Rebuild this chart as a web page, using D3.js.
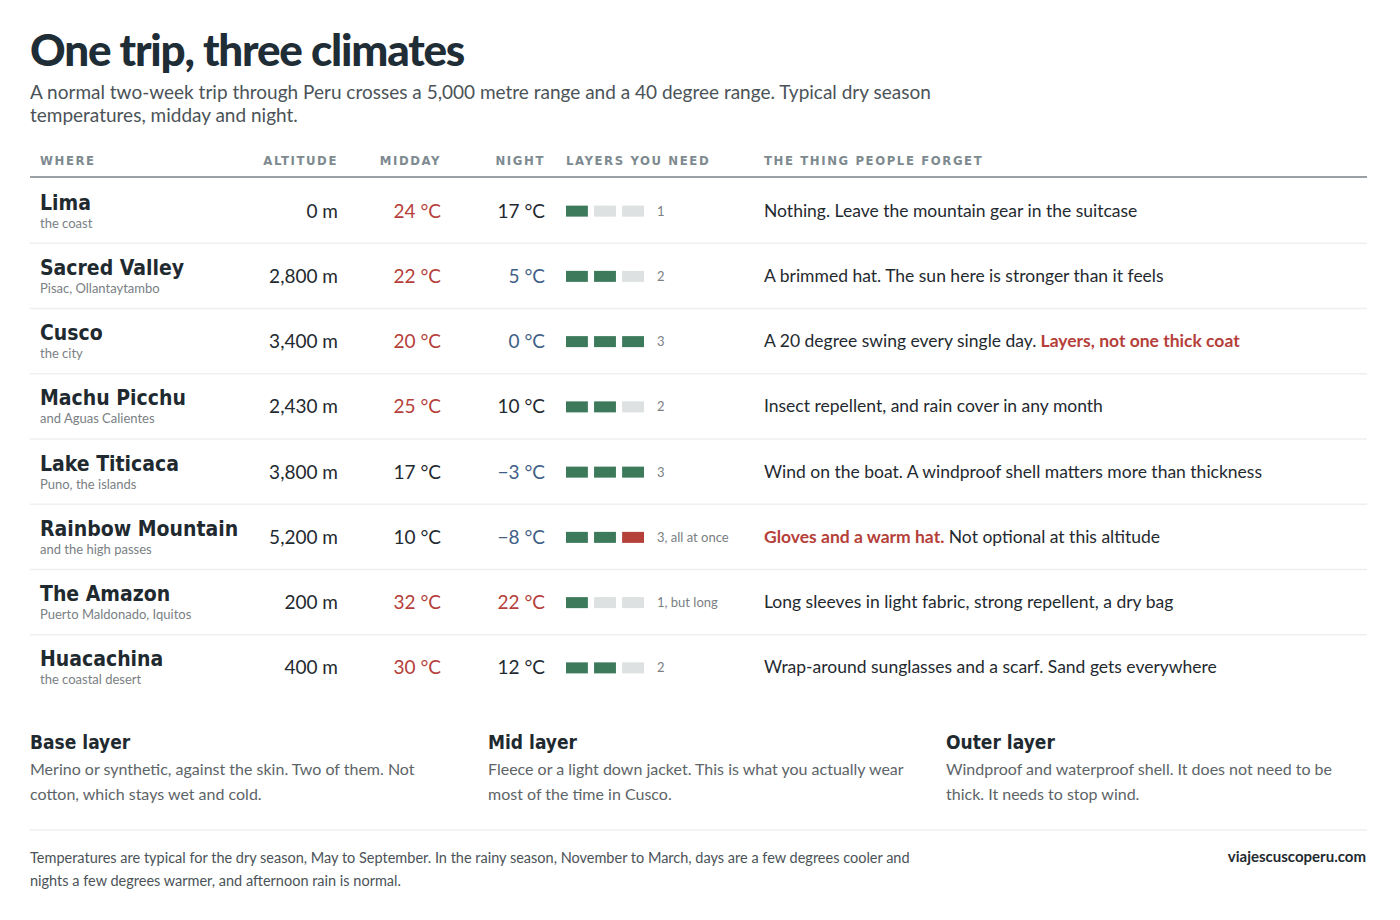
<!DOCTYPE html>
<html><head><meta charset="utf-8">
<script src="https://cdn.jsdelivr.net/npm/d3@7"></script>
<style>body{margin:0;background:#fff}</style>
</head><body>
<script>
var places = ["Lima", "Sacred Valley", "Cusco", "Machu Picchu", "Lake Titicaca", "Rainbow Mountain", "The Amazon", "Huacachina"];
var subtitles = ["the coast", "Pisac, Ollantaytambo", "the city", "and Aguas Calientes", "Puno, the islands", "and the high passes", "Puerto Maldonado, Iquitos", "the coastal desert"];
var altitudes = [0, 2800, 3400, 2430, 3800, 5200, 200, 400];
var midday = [24, 22, 20, 25, 17, 10, 32, 30];
var night = [17, 5, 0, 10, -3, -8, 22, 12];
var layers = [1, 2, 3, 2, 3, 3, 1, 2];
var layerNotes = ["1", "2", "3", "2", "3", "3, all at once", "1, but long", "2"];
var forgetLead = ["", "", "", "", "", "Gloves and a warm hat.", "", ""];
var forgetText = ["Nothing. Leave the mountain gear in the suitcase", "A brimmed hat. The sun here is stronger than it feels",
  "A 20 degree swing every single day.", "Insect repellent, and rain cover in any month",
  "Wind on the boat. A windproof shell matters more than thickness", " Not optional at this altitude",
  "Long sleeves in light fabric, strong repellent, a dry bag", "Wrap-around sunglasses and a scarf. Sand gets everywhere"];
var forgetTail = ["", "", " Layers, not one thick coat", "", "", "", "", ""];
var headers = ["WHERE", "ALTITUDE", "MIDDAY", "NIGHT", "LAYERS YOU NEED", "THE THING PEOPLE FORGET"];

var width = 1400, height = 920;
var red = "#b5403a", blue = "#3f5f86", dark = "#1f2a30", grey = "#7a8084", green = "#3d7a5c";
var cond = "'Liberation Sans Narrow', 'DejaVu Sans Condensed', sans-serif";
var body = "Lato, 'Noto Sans', sans-serif";

var svg = d3.select("body").append("svg").attr("width", width).attr("height", height)
    .style("font-family", body);

svg.append("text").attr("x", 30).attr("y", 66).text("One trip, three climates")
    .style("font-size", "44px").style("font-weight", 900).style("fill", "#1f2d36").style("letter-spacing", "-1.2px");
svg.append("text").attr("x", 30).attr("y", 99).style("font-size", "19px").style("fill", "#4b5358")
    .text("A normal two-week trip through Peru crosses a 5,000 metre range and a 40 degree range. Typical dry season");
svg.append("text").attr("x", 30).attr("y", 122).style("font-size", "19px").style("fill", "#4b5358")
    .text("temperatures, midday and night.");

var y = d3.scaleBand().domain(d3.range(places.length)).range([178, 700]);
var tempColor = function(t) { return t >= 20 ? red : (t <= 5 ? blue : dark); };
var slot = d3.scaleBand().domain([0, 1, 2]).range([566, 644]).paddingInner(0.22);

var hx = [40, 338, 441, 545, 566, 764], ha = ["start", "end", "end", "end", "start", "start"];
svg.selectAll(".hd").data(headers).enter().append("text")
    .attr("x", function(d, i) { return hx[i]; }).attr("y", 165).attr("text-anchor", function(d, i) { return ha[i]; })
    .style("font-family", cond).style("font-size", "13px").style("font-weight", "bold")
    .style("letter-spacing", "1.6px").style("fill", "#7d8a8f").text(function(d) { return d; });
svg.append("line").attr("x1", 30).attr("x2", 1367).attr("y1", 177).attr("y2", 177).style("stroke", "#9aa0a3").style("stroke-width", 2);

var row = svg.selectAll(".row").data(places).enter().append("g")
    .attr("transform", function(d, i) { return "translate(0," + (y(i) + y.bandwidth() / 2) + ")"; });

row.filter(function(d, i) { return i < places.length - 1; }).append("line")
    .attr("x1", 30).attr("x2", 1367).attr("y1", y.bandwidth() / 2).attr("y2", y.bandwidth() / 2)
    .style("stroke", "#eef0f0").style("stroke-width", 1.5);
row.append("text").attr("x", 40).attr("y", -1).text(function(d) { return d; })
    .style("font-family", cond).style("font-weight", "bold").style("font-size", "21px").style("fill", dark);
row.append("text").attr("x", 40).attr("y", 17).text(function(d, i) { return subtitles[i]; })
    .style("font-size", "13px").style("fill", grey);
row.append("text").attr("x", 338).attr("y", 7).attr("text-anchor", "end")
    .text(function(d, i) { return d3.format(",")(altitudes[i]) + " m"; })
    .style("font-size", "19px").style("fill", dark);
row.append("text").attr("x", 441).attr("y", 7).attr("text-anchor", "end")
    .text(function(d, i) { return (midday[i] < 0 ? "\u2212" + (-midday[i]) : midday[i]) + " \u00b0C"; })
    .style("font-size", "19px").style("fill", function(d, i) { return tempColor(midday[i]); });
row.append("text").attr("x", 545).attr("y", 7).attr("text-anchor", "end")
    .text(function(d, i) { return (night[i] < 0 ? "\u2212" + (-night[i]) : night[i]) + " \u00b0C"; })
    .style("font-size", "19px").style("fill", function(d, i) { return tempColor(night[i]); });

row.each(function(d, i) {
  d3.select(this).selectAll("rect").data([0, 1, 2]).enter().append("rect")
      .attr("x", function(k) { return slot(k); }).attr("y", -5).attr("width", slot.bandwidth()).attr("height", 11)
      .style("fill", function(k) {
        if (k >= layers[i]) return "#dde1e1";
        return (i === 5 && k === 2) ? red : green;
      });
});
row.append("text").attr("x", 657).attr("y", 5).text(function(d, i) { return layerNotes[i]; })
    .style("font-size", "13px").style("fill", grey);

var ft = row.append("text").attr("x", 764).attr("y", 6).style("font-size", "17.5px").style("fill", dark);
ft.append("tspan").style("fill", red).style("font-weight", "bold").text(function(d, i) { return forgetLead[i]; });
ft.append("tspan").text(function(d, i) { return forgetText[i]; });
ft.append("tspan").style("fill", red).style("font-weight", "bold").text(function(d, i) { return forgetTail[i]; });

var layerTitles = ["Base layer", "Mid layer", "Outer layer"];
var layerLines = [["Merino or synthetic, against the skin. Two of them. Not", "cotton, which stays wet and cold."],
  ["Fleece or a light down jacket. This is what you actually wear", "most of the time in Cusco."],
  ["Windproof and waterproof shell. It does not need to be", "thick. It needs to stop wind."]];
var lx = [30, 488, 946];
var lg = svg.selectAll(".lg").data(layerTitles).enter().append("g")
    .attr("transform", function(d, i) { return "translate(" + lx[i] + ",0)"; });
lg.append("text").attr("y", 749).text(function(d) { return d; })
    .style("font-family", cond).style("font-weight", "bold").style("font-size", "19px").style("fill", dark);
lg.each(function(d, i) {
  d3.select(this).selectAll(".ln").data(layerLines[i]).enter().append("text")
      .attr("y", function(t, j) { return 775 + j * 25; }).text(function(t) { return t; })
      .style("font-size", "16px").style("fill", "#5d6468");
});

svg.append("line").attr("x1", 30).attr("x2", 1367).attr("y1", 830).attr("y2", 830).style("stroke", "#eef0f0").style("stroke-width", 1.5);
svg.append("text").attr("x", 30).attr("y", 863).style("font-size", "14.5px").style("fill", "#4b5358")
    .text("Temperatures are typical for the dry season, May to September. In the rainy season, November to March, days are a few degrees cooler and");
svg.append("text").attr("x", 30).attr("y", 886).style("font-size", "14.5px").style("fill", "#4b5358")
    .text("nights a few degrees warmer, and afternoon rain is normal.");
svg.append("text").attr("x", 1366).attr("y", 862).attr("text-anchor", "end").text("viajescuscoperu.com")
    .style("font-size", "15px").style("font-weight", "bold").style("fill", dark);
</script>
</body></html>
